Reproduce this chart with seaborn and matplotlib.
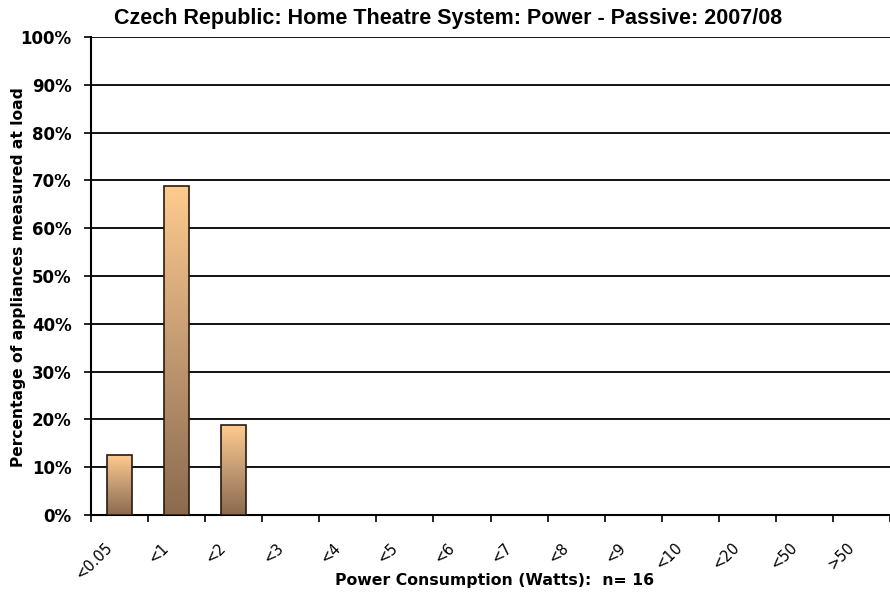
import numpy as np
import pandas as pd
import matplotlib
matplotlib.use("Agg")
import matplotlib.pyplot as plt
import matplotlib.transforms as mtransforms
from matplotlib.colors import LinearSegmentedColormap
import seaborn as sns

categories = ["<0.05", "<1", "<2", "<3", "<4", "<5", "<6", "<7", "<8", "<9",
              "<10", "<20", "<50", ">50"]
shares = [12.5, 68.75, 18.75, 0, 0, 0, 0, 0, 0, 0, 0, 0, 0, 0]
y_ticks = list(range(0, 101, 10))

title = "Czech Republic: Home Theatre System: Power - Passive: 2007/08"
x_label = "Power Consumption (Watts):  n= 16"
y_label = "Percentage of appliances measured at load"

sns.set_theme(style="white")
plt.rcParams["font.family"] = ["DejaVu Sans"]
plt.rcParams["text.color"] = "black"
plt.rcParams["xtick.color"] = "black"
plt.rcParams["ytick.color"] = "black"

df = pd.DataFrame({"band": categories, "share": shares})

fig = plt.figure(figsize=(8.9, 5.92), dpi=100)
ax = fig.add_axes([91 / 890, 77 / 592, 1 - 91 / 890, (515 - 37) / 592])

sns.barplot(data=df, x="band", y="share", order=categories, color="#d9a878",
            width=0.43, edgecolor="#2a1a10", linewidth=1.2, ax=ax, zorder=3)

# vertical gradient fill for each bar, light peach at top to brown at bottom
grad = LinearSegmentedColormap.from_list("peach", ["#8a6a4e", "#c29a72", "#ffcb8e"])
gimg = np.linspace(0, 1, 256).reshape(-1, 1)
for p in ax.patches:
    h = p.get_height()
    if h <= 0:
        p.set_visible(False)
        continue
    x0 = p.get_x()
    w = p.get_width()
    im = ax.imshow(gimg, cmap=grad, origin="lower", aspect="auto",
                   extent=[x0, x0 + w, 0, h], zorder=3.5, interpolation="bicubic")
    im.set_clip_path(p)
    p.set_facecolor("none")
    p.set_zorder(4)

ax.set_xlim(-0.5, len(categories) - 0.5)
ax.set_ylim(0, 100)
ax.set_yticks(y_ticks)
ax.set_yticklabels([f"{v}%" for v in y_ticks], fontsize=12, fontweight="bold")
ax.yaxis.grid(True, color="black", linewidth=1.3, zorder=1)
ax.xaxis.grid(False)

# category labels at bar centres, tick marks at band boundaries
ax.set_xticks(range(len(categories)))
ax.set_xticklabels(categories, rotation=45, ha="right", rotation_mode="anchor",
                   fontsize=10.5)
ax.tick_params(axis="x", which="major", length=0, pad=18)
ax.set_xticks(np.arange(-0.5, len(categories), 1), minor=True)
ax.tick_params(axis="x", which="minor", length=5, width=1.2, color="black",
               direction="out", bottom=True)
ax.tick_params(axis="y", length=5, width=1.2, color="black", direction="out",
               left=True, pad=9)
shift = mtransforms.ScaledTranslation(-15 / 100, 0, fig.dpi_scale_trans)
for lbl in ax.get_xticklabels():
    lbl.set_transform(lbl.get_transform() + shift)

for s in ["top", "right"]:
    ax.spines[s].set_visible(False)
for s in ["left", "bottom"]:
    ax.spines[s].set_color("black")
    ax.spines[s].set_linewidth(1.5)

ax.set_xlabel("")
ax.set_ylabel("")
fig.text(448 / 890, 1 - 24 / 592, title, ha="center", va="baseline",
         fontsize=15.5, fontweight="bold", family=["Liberation Sans"])
fig.text(495 / 890, 1 - 581 / 592, x_label, ha="center", va="center",
         fontsize=11.3, fontweight="bold")
fig.text(19 / 890, 1 - 277 / 592, y_label, ha="center", va="center",
         rotation=90, fontsize=11.2, fontweight="bold")

fig.savefig("out.png", dpi=100, facecolor="white")
